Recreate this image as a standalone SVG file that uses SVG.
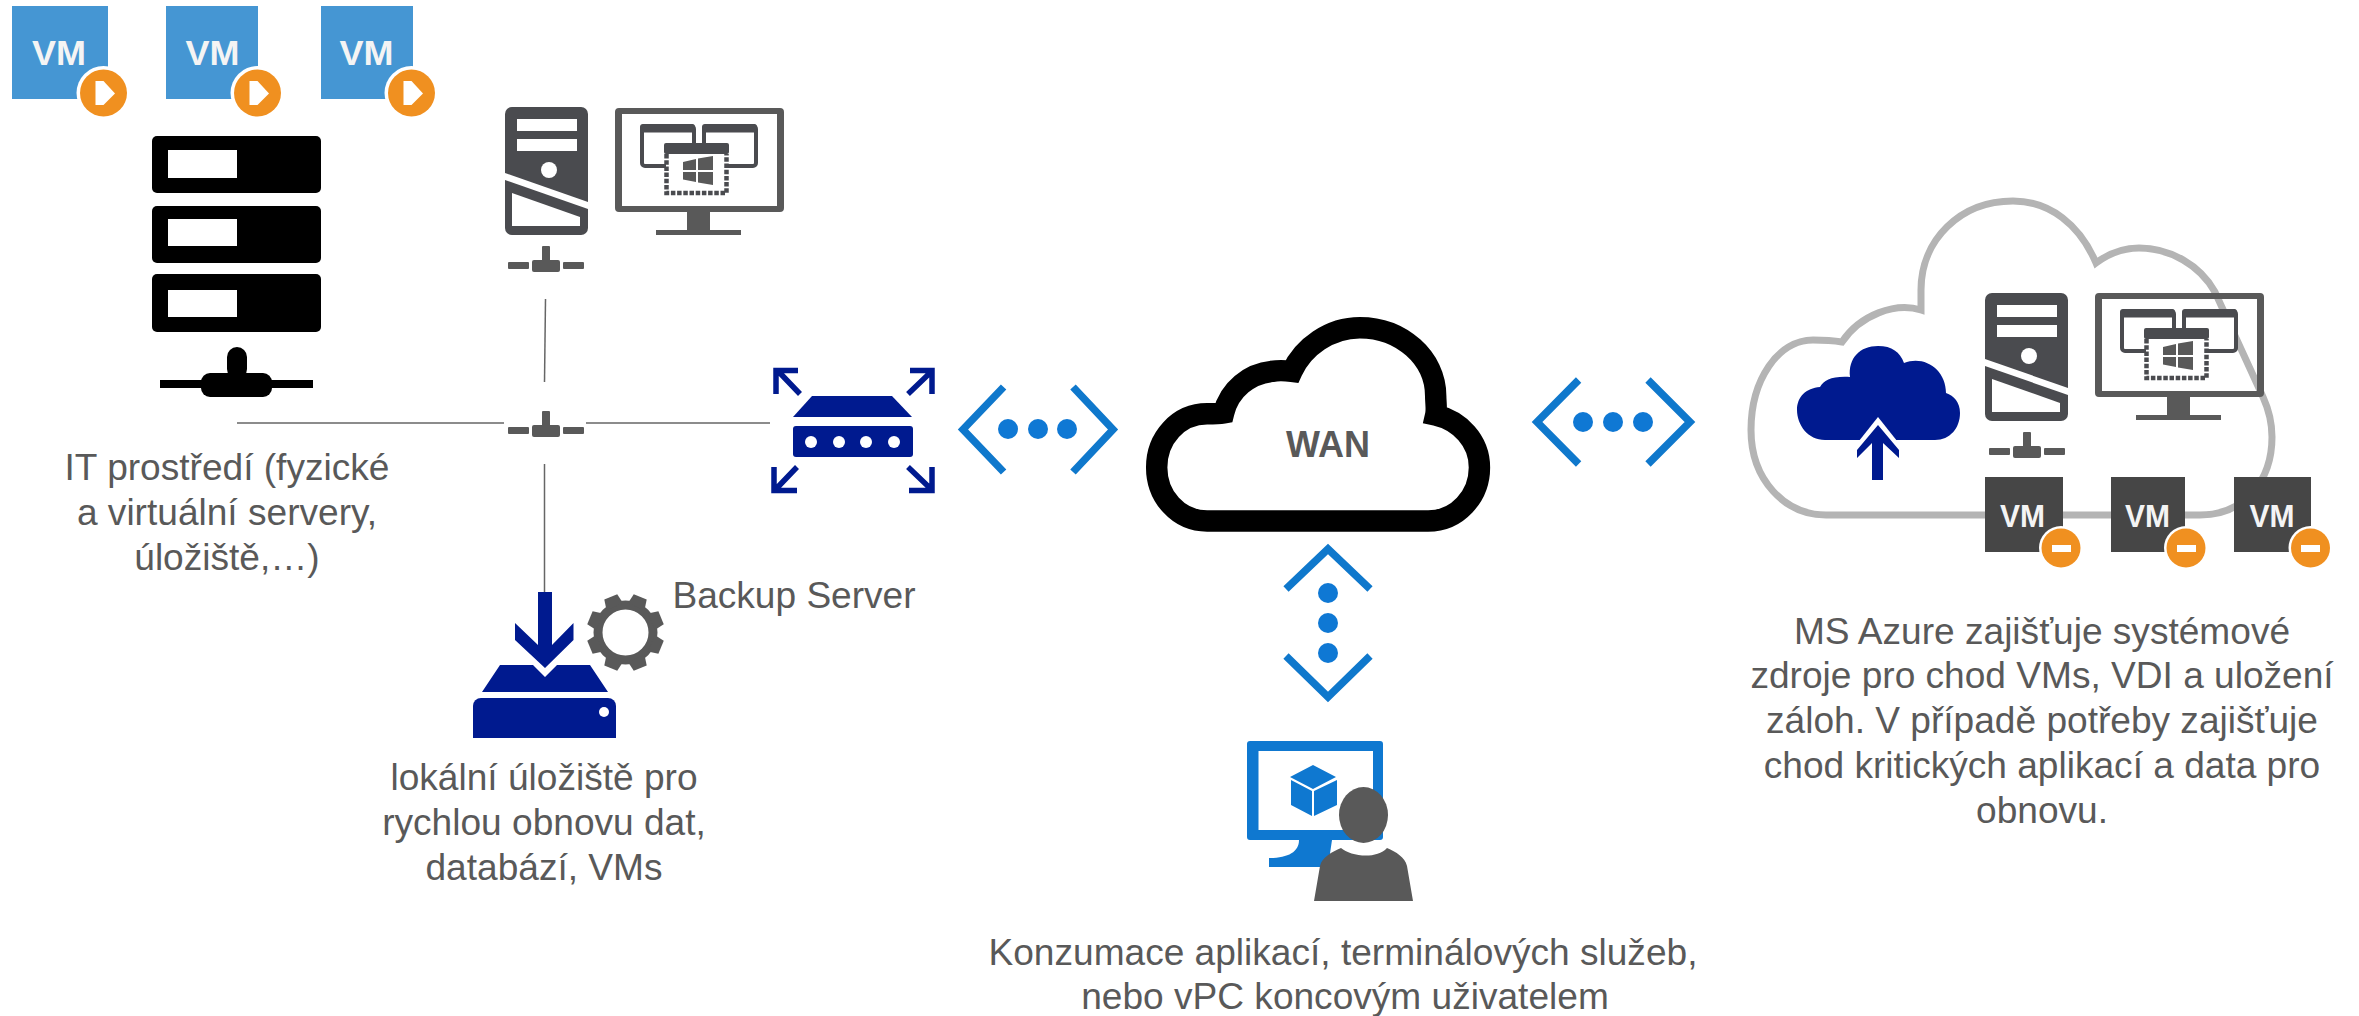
<svg xmlns="http://www.w3.org/2000/svg" xmlns:xlink="http://www.w3.org/1999/xlink" width="2359" height="1016" viewBox="0 0 2359 1016">
<style>
.t{font-family:"Liberation Sans",Arial,sans-serif;font-size:37.1px;fill:#595959;text-anchor:middle}
.vm{font-family:"Liberation Sans",Arial,sans-serif;font-weight:bold;fill:#f4f4f4;text-anchor:middle}
.navy{fill:#001a8f}
.chev{fill:none;stroke:#0f78cc;stroke-width:7.5}
.dot{fill:#0f78d4}
.conn{stroke:#666;stroke-width:1.5;fill:none}
.tw{fill:#4a4b4f}
.mon{fill:#595959}
.arw{fill:none;stroke:#001a8f;stroke-width:5.5}
</style>
<defs>
<g id="tower">
<path class="tw" d="M512,107H581a7,7 0 0 1 7,7V202L505,173V114a7,7 0 0 1 7,-7Z"/>
<path class="tw" d="M505,180L588,209V228a7,7 0 0 1 -7,7H512a7,7 0 0 1 -7,-7Z"/>
<rect x="517" y="119" width="60" height="12" fill="#fff"/>
<rect x="517" y="139" width="60" height="12" fill="#fff"/>
<circle cx="549" cy="170" r="8" fill="#fff"/>
<path d="M512,193L580,217V226H512Z" fill="#fff"/>
</g>
<g id="monitor">
<path class="mon" fill-rule="evenodd" d="M619,108H780a4,4 0 0 1 4,4V208a4,4 0 0 1 -4,4H619a4,4 0 0 1 -4,-4V112a4,4 0 0 1 4,-4ZM622,114V206H777V114Z"/>
<rect class="mon" x="687" y="212" width="23" height="19"/>
<rect class="mon" x="656" y="230" width="85" height="5"/>
<rect x="642" y="126" width="52" height="40" rx="3" fill="#fff" stroke="#4a4b4f" stroke-width="4"/>
<rect x="704" y="126" width="52" height="40" rx="3" fill="#fff" stroke="#4a4b4f" stroke-width="4"/>
<rect x="640" y="124" width="55" height="8.500" rx="3" fill="#4a4b4f"/>
<rect x="702" y="124" width="55" height="8.500" rx="3" fill="#4a4b4f"/>
<rect x="666" y="154" width="61" height="40" fill="#fff"/>
<rect x="664" y="143" width="65" height="11" rx="2" fill="#4a4b4f"/>
<path d="M666.500,154V193H726.500V154" fill="none" stroke="#4a4b4f" stroke-width="4.500" stroke-dasharray="4.500 1.700"/>
<path class="mon" d="M683,162L696,159V170H683ZM698,158.500L713,156V170H698ZM683,172H696V182L683,179.500ZM698,172H713V185L698,182.500Z"/>
</g>
<g id="tee">
<rect class="mon" x="542" y="246" width="8" height="18" rx="1"/>
<rect class="mon" x="532" y="260" width="28" height="12" rx="2"/>
<rect class="mon" x="508" y="262" width="21" height="7" rx="1"/>
<rect class="mon" x="563" y="262" width="21" height="7" rx="1"/>
</g>
<path id="play" d="M0,0H8L19.500,12.500L8,24H0Z" fill="#fff"/>
<path id="tooth" d="M-7,-38.500H7L9,-28H-9Z" fill="#595959"/>
</defs>

<g id="connectors">
<line class="conn" x1="545.500" y1="299" x2="544.500" y2="382"/>
<line class="conn" x1="237" y1="423" x2="504" y2="423"/>
<line class="conn" x1="586" y1="423" x2="770" y2="423"/>
<line class="conn" x1="544.500" y1="464" x2="544.500" y2="594"/>
</g>

<g id="vm-blue-1">
<rect x="12" y="6" width="96" height="93" fill="#4596d3"/>
<text class="vm" x="59" y="65" font-size="35" textLength="54" lengthAdjust="spacingAndGlyphs">VM</text>
<circle cx="103.500" cy="93" r="27" fill="#fff"/>
<circle cx="103.500" cy="93" r="23.500" fill="#f09020"/>
<use xlink:href="#play" href="#play" x="95.500" y="81"/>
</g>
<g id="vm-blue-2">
<rect x="166" y="6" width="92" height="93" fill="#4596d3"/>
<text class="vm" x="212.500" y="65" font-size="35" textLength="54" lengthAdjust="spacingAndGlyphs">VM</text>
<circle cx="257.500" cy="93" r="27" fill="#fff"/>
<circle cx="257.500" cy="93" r="23.500" fill="#f09020"/>
<use xlink:href="#play" href="#play" x="249.500" y="81"/>
</g>
<g id="vm-blue-3">
<rect x="321" y="6" width="92" height="93" fill="#4596d3"/>
<text class="vm" x="366.500" y="65" font-size="35" textLength="54" lengthAdjust="spacingAndGlyphs">VM</text>
<circle cx="411.500" cy="93" r="27" fill="#fff"/>
<circle cx="411.500" cy="93" r="23.500" fill="#f09020"/>
<use xlink:href="#play" href="#play" x="403.500" y="81"/>
</g>

<g id="server-stack">
<rect x="152" y="136" width="169" height="57" rx="5"/>
<rect x="152" y="206" width="169" height="57" rx="5"/>
<rect x="152" y="274" width="169" height="58" rx="5"/>
<rect x="168" y="150" width="69" height="28" fill="#fff"/>
<rect x="168" y="219" width="69" height="27" fill="#fff"/>
<rect x="168" y="290" width="69" height="27" fill="#fff"/>
<rect x="227" y="347" width="20" height="32" rx="10"/>
<rect x="201" y="373" width="71" height="24" rx="9"/>
<rect x="160" y="380" width="153" height="8"/>
</g>

<g id="local-workstation">
<use xlink:href="#tower" href="#tower"/>
<use xlink:href="#monitor" href="#monitor"/>
<use xlink:href="#tee" href="#tee"/>
</g>
<g id="switch-hub"><use xlink:href="#tee" href="#tee" y="165"/></g>

<g id="router">
<path class="navy" d="M812,396H892L912,417H793Z"/>
<rect class="navy" x="793" y="426" width="120" height="31" rx="3"/>
<circle cx="811" cy="442" r="6" fill="#fff"/><circle cx="839" cy="442" r="6" fill="#fff"/><circle cx="866" cy="442" r="6" fill="#fff"/><circle cx="894" cy="442" r="6" fill="#fff"/>
<path class="arw" d="M800,394L778,371M776,394V370.500H798"/>
<path class="arw" d="M908,394L932,371M932,394V370.500H910"/>
<path class="arw" d="M797,467L775,490M774,467V490.500H797"/>
<path class="arw" d="M908,467L932,490M932,467V490.500H909"/>
</g>

<g id="link-left">
<path class="chev" d="M1003.600,387L963,429.500L1003.600,472"/>
<path class="chev" d="M1073,387L1113,429.500L1073,472"/>
<circle class="dot" cx="1008" cy="429" r="10"/><circle class="dot" cx="1038" cy="429" r="10"/><circle class="dot" cx="1067" cy="429" r="10"/>
</g>

<g id="backup-storage">
<path class="navy" d="M500,665H533L545,677L557,665H590L608,692H482Z"/>
<path class="navy" d="M481,698H608a8,8 0 0 1 8,8V738H473V706a8,8 0 0 1 8,-8Z"/>
<circle cx="604" cy="712" r="5" fill="#fff"/>
<path class="navy" d="M538,592H552V645L573.500,623V640L545,668L515,640V623L538,645Z"/>
</g>
<g id="gear" transform="translate(625.500,632.500)">
<circle r="27.500" fill="none" stroke="#595959" stroke-width="9"/>
<use xlink:href="#tooth" href="#tooth" transform="rotate(22.500)"/>
<use xlink:href="#tooth" href="#tooth" transform="rotate(67.500)"/>
<use xlink:href="#tooth" href="#tooth" transform="rotate(112.500)"/>
<use xlink:href="#tooth" href="#tooth" transform="rotate(157.500)"/>
<use xlink:href="#tooth" href="#tooth" transform="rotate(202.500)"/>
<use xlink:href="#tooth" href="#tooth" transform="rotate(247.500)"/>
<use xlink:href="#tooth" href="#tooth" transform="rotate(292.500)"/>
<use xlink:href="#tooth" href="#tooth" transform="rotate(337.500)"/>
</g>

<g id="wan-cloud">
<path transform="translate(1100,300) scale(0.4464)" fill="#fff" stroke="#000" stroke-width="48" stroke-linejoin="miter" d="M240,495H735C800,495 850,440 850,375C850,315 805,270 752,258C755,245 752,230 752,215C752,130 675,62 582,62C515,62 455,105 430,160C415,158 400,157 385,160C335,165 290,200 277,253C265,255 250,255 240,255C175,255 127,310 127,375C127,440 175,495 240,495Z"/>
<text x="1328" y="457" font-family="Liberation Sans, Arial, sans-serif" font-weight="bold" font-size="36" fill="#595959" text-anchor="middle">WAN</text>
</g>

<g id="link-right">
<path class="chev" d="M1578.600,380L1537,422L1578.600,464"/>
<path class="chev" d="M1648,380L1690,422L1648,464"/>
<circle class="dot" cx="1583" cy="422" r="10"/><circle class="dot" cx="1613" cy="422" r="10"/><circle class="dot" cx="1643" cy="422" r="10"/>
</g>

<g id="link-down">
<path class="chev" d="M1286,589L1328,549L1370,589"/>
<path class="chev" d="M1286,656L1328,697L1370,656"/>
<circle class="dot" cx="1328" cy="593" r="10"/><circle class="dot" cx="1328" cy="623" r="10"/><circle class="dot" cx="1328" cy="653" r="10"/>
</g>

<g id="user">
<path d="M1299,840C1299,852 1288,858 1269,858V867H1328L1332,840Z" fill="#0f78d0"/>
<path fill="#0f78d0" fill-rule="evenodd" d="M1250,741H1380a3,3 0 0 1 3,3V837a3,3 0 0 1 -3,3H1250a3,3 0 0 1 -3,-3V744a3,3 0 0 1 3,-3ZM1258.500,751V830H1373V751Z"/>
<path fill="#0f78d0" d="M1313,765L1336,777L1313,789L1290,777ZM1291,780L1312,791V816L1291,805ZM1314,791L1337,780V805L1314,816Z"/>
<ellipse cx="1363.500" cy="815" rx="24.500" ry="28" fill="#595959"/>
<path fill="#595959" d="M1314,901L1320,866C1322,857 1332,852 1341,848C1350,856 1376,860 1387,848C1396,852 1405,857 1407,866L1413,901Z"/>
</g>

<g id="azure-cloud">
<path fill="#fff" stroke="#b4b4b4" stroke-width="7" d="M1826,515H2200C2245,515 2272,480 2272,437C2272,420 2268,408 2263,397L2215,292C2200,265 2170,248 2139,248C2122,248 2108,254 2096,263C2080,225 2050,201 2013,201C1960,201 1921,240 1921,290L1921,310C1895,302 1860,315 1842,342C1830,340 1822,340 1813,340C1778,340 1751,380 1751,430C1751,480 1785,515 1826,515Z"/>
<path class="navy" d="M1825,440C1808,440 1797,425 1797,410C1797,397 1806,388 1820,387C1824,380 1832,376 1850,377C1848,358 1860,346 1878,346C1892,346 1900,352 1904,363C1925,355 1946,370 1946,393C1954,396 1960,402 1960,413C1960,428 1950,440 1935,440Z"/>
<path fill="#fff" d="M1878,417L1905,451V462H1851V451Z"/>
<path class="navy" d="M1878,425L1899,450V458L1883,443V480H1872V443L1857,458V450Z"/>
</g>
<g id="azure-workstation">
<use xlink:href="#tower" href="#tower" x="1480" y="186"/>
<use xlink:href="#monitor" href="#monitor" x="1480" y="185"/>
<use xlink:href="#tee" href="#tee" x="1481" y="186"/>
</g>

<g id="vm-dark-1">
<rect x="1985" y="477" width="78" height="75" fill="#464646"/>
<text class="vm" x="2022.500" y="527" font-size="32" textLength="45" lengthAdjust="spacingAndGlyphs">VM</text>
<circle cx="2061" cy="548" r="22" fill="#fff"/><circle cx="2061" cy="548" r="19.500" fill="#f09020"/>
<rect x="2052" y="545" width="19" height="7" fill="#fff"/>
</g>
<g id="vm-dark-2">
<rect x="2111" y="477" width="74" height="75" fill="#464646"/>
<text class="vm" x="2147.500" y="527" font-size="32" textLength="45" lengthAdjust="spacingAndGlyphs">VM</text>
<circle cx="2186" cy="548" r="22" fill="#fff"/><circle cx="2186" cy="548" r="19.500" fill="#f09020"/>
<rect x="2177" y="545" width="19" height="7" fill="#fff"/>
</g>
<g id="vm-dark-3">
<rect x="2234" y="477" width="77" height="75" fill="#464646"/>
<text class="vm" x="2272" y="527" font-size="32" textLength="45" lengthAdjust="spacingAndGlyphs">VM</text>
<circle cx="2310.500" cy="548" r="22" fill="#fff"/><circle cx="2310.500" cy="548" r="19.500" fill="#f09020"/>
<rect x="2301" y="545" width="19" height="7" fill="#fff"/>
</g>

<g id="labels">
<text class="t" x="227" y="480">IT prostředí (fyzické</text>
<text class="t" x="227" y="525">a virtuální servery,</text>
<text class="t" x="227" y="570">úložiště,…)</text>
<text class="t" x="794" y="608">Backup Server</text>
<text class="t" x="544" y="790">lokální úložiště pro</text>
<text class="t" x="544" y="835">rychlou obnovu dat,</text>
<text class="t" x="544" y="880">databází, VMs</text>
<text class="t" x="1343" y="965">Konzumace aplikací, terminálových služeb,</text>
<text class="t" x="1345" y="1009">nebo vPC koncovým uživatelem</text>
<text class="t" x="2042" y="644">MS Azure zajišťuje systémové</text>
<text class="t" x="2042" y="688">zdroje pro chod VMs, VDI a uložení</text>
<text class="t" x="2042" y="733">záloh. V případě potřeby zajišťuje</text>
<text class="t" x="2042" y="778">chod kritických aplikací a data pro</text>
<text class="t" x="2042" y="823">obnovu.</text>
</g>
</svg>
